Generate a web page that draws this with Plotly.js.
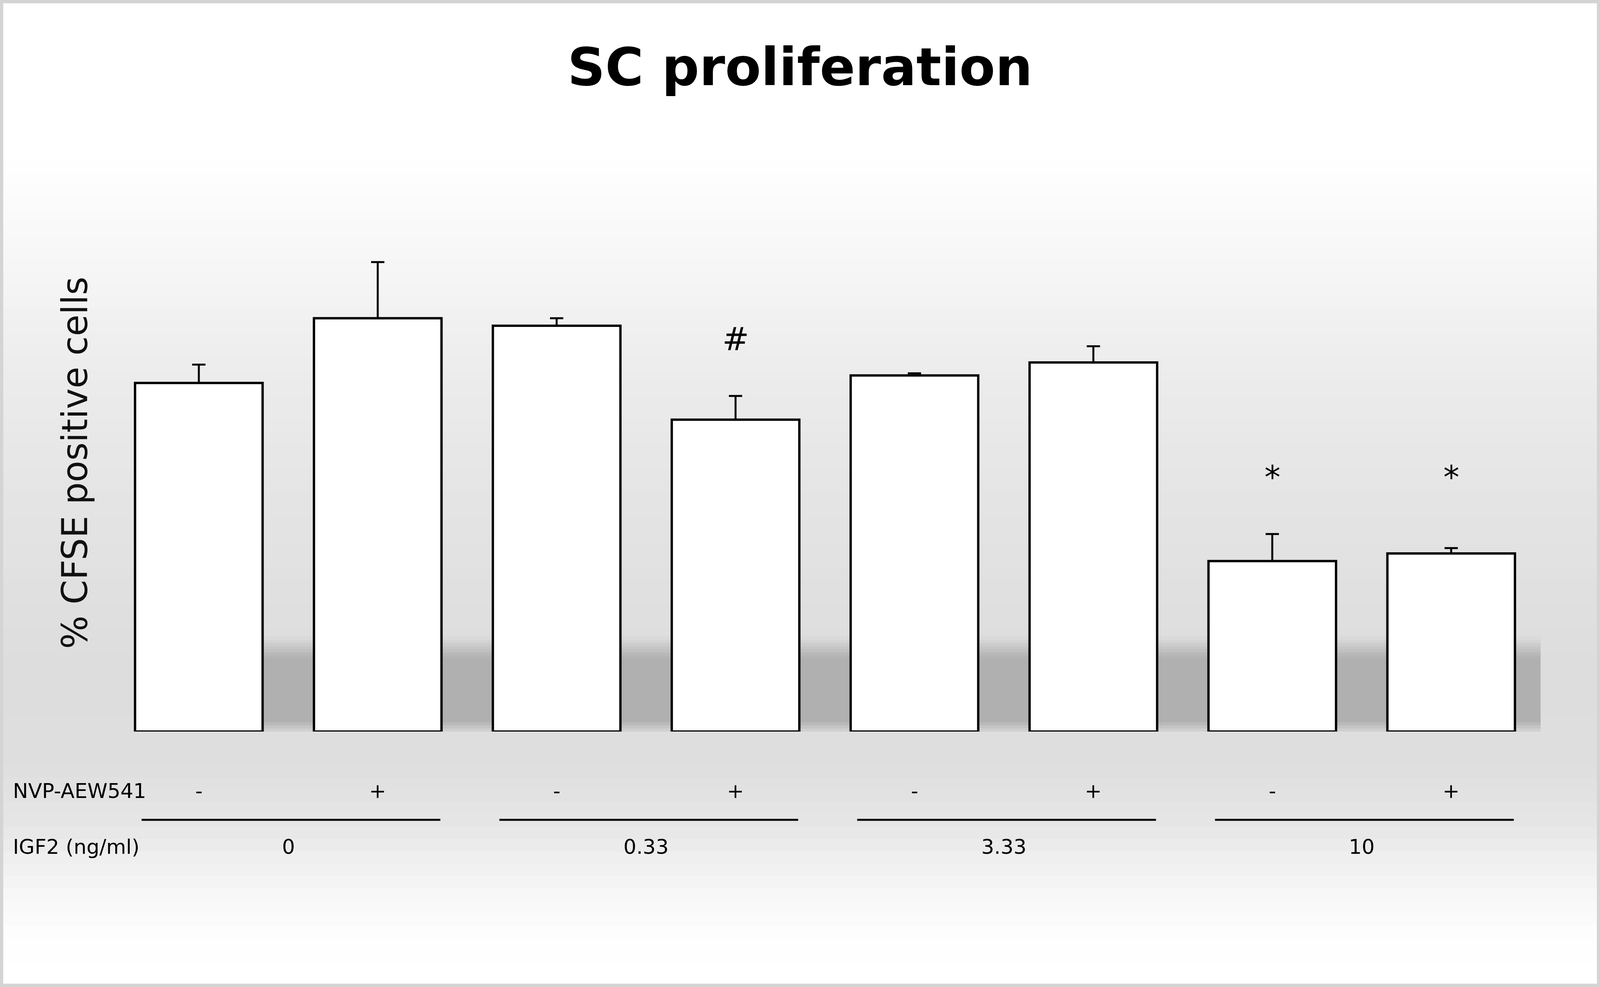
<!DOCTYPE html>
<html>
<head>
<meta charset="utf-8">
<script src="https://cdn.plot.ly/plotly-3.0.1.min.js"></script>
<style>
html, body { margin: 0; padding: 0; background: #fff; overflow: hidden; }
</style>
</head>
<body>
<div id="chart"></div>
<script>
// bar categories: IGF2 dose / NVP-AEW541
var conditions = ['0 -', '0 +', '0.33 -', '0.33 +', '3.33 -', '3.33 +', '10 -', '10 +'];
var cfse = [32.3, 38.3, 37.6, 28.9, 33.0, 34.2, 15.8, 16.5];
var sem = [1.7, 5.2, 0.7, 2.2, 0.2, 1.5, 2.5, 0.5];
var nvp = ['-', '+', '-', '+', '-', '+', '-', '+'];
var igf2 = ['0', '0.33', '3.33', '10'];
var signif = ['', '', '', '#', '', '', '*', '*'];

// the window may be narrower than the 4331px design, so squeeze x to fit
var W0 = 4331;
var W = Math.min(window.innerWidth || W0, W0), H = 2527;
var sx = W / W0;
var mg = { l: 296 * sx, r: 161 * sx, t: 497, b: 654 };

// design-pixel -> paper helpers for the decoration outside the plot area
function py(Y) { return (H - mg.b - Y) / (H - mg.t - mg.b); }
function px(X) { return (X * sx - mg.l) / (W - mg.l - mg.r); }
function grey(v) { v = Math.round(v); return 'rgb(' + v + ',' + v + ',' + v + ')'; }
function lerp(stops, t) {
    for (var k = 1; k < stops.length; k++) {
        if (t <= stops[k][0]) {
            var a = stops[k - 1], b = stops[k];
            return a[1] + (b[1] - a[1]) * (t - a[0]) / (b[0] - a[0]);
        }
    }
    return stops[stops.length - 1][1];
}

var shapes = [];

// page background gradient (white -> grey -> white)
var bgStops = [[0, 255], [380, 255], [700, 245], [1000, 235], [1300, 228], [1700, 221],
               [1950, 222], [2100, 229], [2200, 239], [2300, 248], [2400, 254], [2527, 255]];
var nb = 80;
for (var k = 0; k < nb; k++) {
    var y0 = H * k / nb, y1 = H * (k + 1) / nb + 1;
    shapes.push({
        type: 'rect', xref: 'paper', yref: 'paper', layer: 'below',
        x0: px(0), x1: px(W0), y0: py(y0), y1: py(y1),
        fillcolor: grey(lerp(bgStops, (y0 + y1) / 2)), line: { width: 0 }
    });
}

// soft floor shadow behind the bars
var shStops = [[0, 214], [1.0, 176], [6.8, 176], [8.8, 221]];
var ns = 30;
for (var k = 0; k < ns; k++) {
    var sa = 8.8 * k / ns, sb = 8.8 * (k + 1) / ns + 0.05;
    shapes.push({
        type: 'rect', xref: 'x', yref: 'y', layer: 'below',
        x0: 0, x1: 7.5, y0: sa, y1: sb,
        fillcolor: grey(lerp(shStops, (sa + sb) / 2)), line: { width: 0 }
    });
}

// lines under each IGF2 pair
for (var g = 0; g < igf2.length; g++) {
    shapes.push({
        type: 'line', xref: 'x', yref: 'paper',
        x0: 2 * g - 0.32, x1: 2 * g + 1 + 0.35, y0: py(2099), y1: py(2099),
        line: { color: '#000', width: 5 }
    });
}

// outer frame
shapes.push({
    type: 'rect', xref: 'paper', yref: 'paper', layer: 'above',
    x0: px(4), x1: px(W0 - 4), y0: py(4), y1: py(H - 4),
    line: { color: '#d4d4d4', width: 9 }
});

var lblFont = { family: 'DejaVu Sans', size: 52, color: '#000' };
var annotations = [];

annotations.push({ xref: 'paper', yref: 'paper', x: px(33), y: py(2025), xanchor: 'left', yanchor: 'middle',
    text: 'NVP-AEW541', showarrow: false, font: lblFont });
annotations.push({ xref: 'paper', yref: 'paper', x: px(33), y: py(2168), xanchor: 'left', yanchor: 'middle',
    text: 'IGF2 (ng/ml)', showarrow: false, font: lblFont });

for (var i = 0; i < nvp.length; i++) {
    annotations.push({ xref: 'x', yref: 'paper', x: i, y: py(2025), yanchor: 'middle',
        text: nvp[i], showarrow: false, font: lblFont });
}
for (var g = 0; g < igf2.length; g++) {
    annotations.push({ xref: 'x', yref: 'paper', x: 2 * g + 0.5, y: py(2168), yanchor: 'middle',
        text: igf2[g], showarrow: false, font: lblFont });
}

// significance marks above the error bars
for (var i = 0; i < signif.length; i++) {
    if (!signif[i]) continue;
    var markY = cfse[i] + sem[i];
    var pair = i ^ 1;
    if (signif[pair] === signif[i]) markY = Math.max(markY, cfse[pair] + sem[pair]);
    annotations.push({ xref: 'x', yref: 'y', x: i, y: markY, yshift: 145, yanchor: 'middle',
        text: signif[i], showarrow: false, font: { family: 'DejaVu Sans', size: 82, color: '#000' } });
}

var data = [{
    type: 'bar',
    x: conditions,
    y: cfse,
    marker: { color: '#ffffff', line: { color: '#000000', width: 6 } },
    error_y: {
        type: 'data', array: sem, arrayminus: sem.map(function () { return 0; }),
        symmetric: false, color: '#000000', thickness: 5, width: 18 * sx
    },
    hoverinfo: 'x+y'
}];

var layout = {
    width: W,
    height: H,
    margin: { l: mg.l, r: mg.r, t: mg.t, b: mg.b },
    paper_bgcolor: '#ffffff',
    plot_bgcolor: 'rgba(0,0,0,0)',
    showlegend: false,
    bargap: 0.287,
    title: {
        text: 'SC proliferation',
        font: { family: 'DejaVu Sans', size: 134, color: '#000', weight: 'bold' },
        x: 0.5, xref: 'container', xanchor: 'center',
        y: 1 - 171 / H, yref: 'container', yanchor: 'middle'
    },
    xaxis: {
        type: 'category',
        range: [-0.5, 7.5],
        showticklabels: false, showgrid: false, zeroline: false, showline: false, ticks: ''
    },
    yaxis: {
        range: [0, 49.8],
        showticklabels: false, showgrid: false, zeroline: false, showline: false, ticks: '',
        title: {
            text: '% CFSE positive cells',
            font: { family: 'DejaVu Sans', size: 90, color: '#111' },
            standoff: 25
        }
    },
    shapes: shapes,
    annotations: annotations
};

Plotly.newPlot('chart', data, layout, { staticPlot: true });
</script>
</body>
</html>
